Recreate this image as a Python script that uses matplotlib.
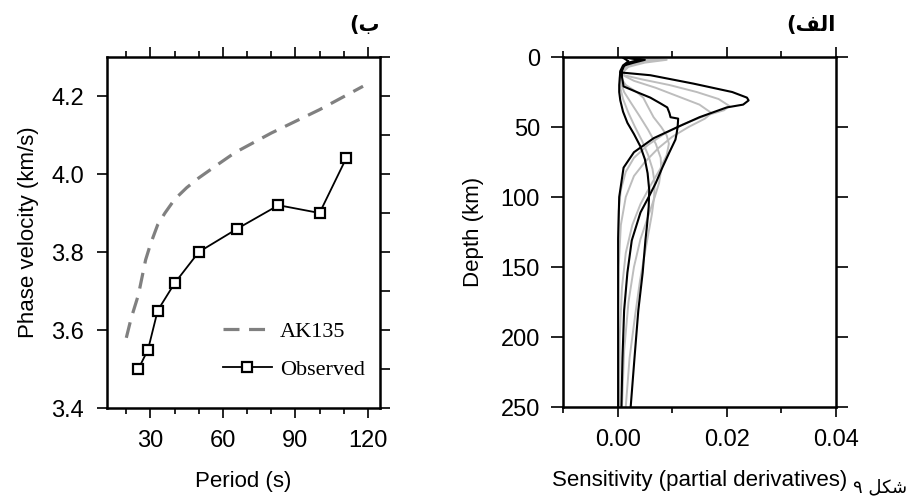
import matplotlib
matplotlib.use('Agg')
import matplotlib.pyplot as plt
from matplotlib.ticker import MultipleLocator, FormatStrFormatter

# ---- panel b: phase velocity dispersion ----
period_obs = [25, 29, 33, 40, 50, 66, 83, 100, 111]
vel_obs = [3.50, 3.55, 3.65, 3.72, 3.80, 3.86, 3.92, 3.90, 4.04]

period_ak = [20, 22, 25, 28, 30, 33, 36, 40, 45, 50, 58, 65, 80, 100, 118]
vel_ak = [3.58, 3.63, 3.69, 3.78, 3.82, 3.87, 3.90, 3.935, 3.965, 3.99, 4.025, 4.055, 4.105, 4.165, 4.225]

# ---- panel a: sensitivity kernels (depth km, value) ----
depth_a = [0, 2, 4, 6, 8, 11, 13, 19, 25, 29, 31, 34, 36, 43, 50, 58, 68, 79, 100, 130, 170, 210, 250]
sens_a = [0.0015, 0.0050, 0.0030, 0.0012, 0.0010, 0.0005, 0.0060, 0.0139, 0.0210, 0.0237, 0.0240, 0.0230,
          0.0200, 0.0150, 0.0110, 0.0066, 0.0030, 0.0011, 0.0003, 0.0001, 0.0001, 0.0001, 0.0001]

depth_b = [0, 2, 4, 7, 10, 13, 16, 20, 25, 30, 35, 38, 42, 48, 55, 63, 72, 82, 95, 110, 130, 160, 200, 250]
sens_b = [0.0030, 0.0080, 0.0040, 0.0015, 0.0010, 0.0012, 0.0045, 0.0095, 0.0145, 0.0185, 0.0205, 0.0195,
          0.0160, 0.0120, 0.0085, 0.0055, 0.0030, 0.0015, 0.0006, 0.0002, 0.0001, 0.0001, 0.0001, 0.0001]

depth_c = [0, 2, 4, 7, 10, 13, 17, 22, 28, 34, 40, 44, 50, 57, 65, 75, 85, 100, 120, 150, 200, 250]
sens_c = [0.0025, 0.0090, 0.0050, 0.0020, 0.0012, 0.0010, 0.0030, 0.0070, 0.0110, 0.0150, 0.0172, 0.0160,
          0.0130, 0.0100, 0.0075, 0.0050, 0.0030, 0.0015, 0.0006, 0.0002, 0.0001, 0.0001]

depth_d = [0, 2, 4, 7, 10, 14, 21, 25, 29, 33, 36, 40, 43, 44, 50, 55, 59, 68, 79, 90, 100, 111, 131, 154,
           181, 215, 250]
sens_d = [0.0010, 0.0040, 0.0020, 0.0010, 0.0008, 0.0008, 0.0011, 0.0035, 0.0060, 0.0078, 0.0091, 0.0095,
          0.0097, 0.0111, 0.0110, 0.0108, 0.0106, 0.0095, 0.0082, 0.0070, 0.0057, 0.0042, 0.0026, 0.0018,
          0.0012, 0.0009, 0.0007]

depth_e = [0, 2, 5, 8, 12, 16, 20, 25, 29, 35, 43, 50, 56, 62, 70, 80, 92, 105, 120, 140, 165, 200, 250]
sens_e = [0.0020, 0.0065, 0.0030, 0.0012, 0.0008, 0.0008, 0.0015, 0.0035, 0.0047, 0.0055, 0.0066, 0.0080,
          0.0090, 0.0094, 0.0090, 0.0078, 0.0060, 0.0042, 0.0027, 0.0015, 0.0008, 0.0004, 0.0003]

depth_f = [0, 2, 5, 8, 12, 18, 25, 33, 42, 52, 62, 72, 80, 90, 100, 115, 130, 150, 175, 210, 250]
sens_f = [0.0015, 0.0055, 0.0025, 0.0010, 0.0006, 0.0006, 0.0012, 0.0025, 0.0040, 0.0056, 0.0070, 0.0079,
          0.0080, 0.0076, 0.0068, 0.0055, 0.0042, 0.0030, 0.0020, 0.0012, 0.0008]

depth_g = [0, 3, 6, 10, 15, 22, 30, 40, 50, 60, 70, 80, 90, 100, 112, 125, 140, 160, 185, 215, 250]
sens_g = [0.0010, 0.0040, 0.0015, 0.0006, 0.0004, 0.0005, 0.0010, 0.0020, 0.0032, 0.0045, 0.0056, 0.0064,
          0.0068, 0.0067, 0.0063, 0.0057, 0.0050, 0.0041, 0.0032, 0.0022, 0.0015]

depth_h = [0, 3, 6, 10, 15, 20, 25, 31, 39, 47, 55, 64, 73, 83, 95, 107, 120, 131, 154, 181, 215, 250]
sens_h = [0.0008, 0.0020, 0.0010, 0.0005, 0.0004, 0.0003, 0.0003, 0.0005, 0.0010, 0.0018, 0.0030, 0.0042,
          0.0050, 0.0055, 0.0058, 0.0057, 0.0054, 0.0051, 0.0046, 0.0038, 0.0031, 0.0024]

gray_kernels = [(depth_b, sens_b), (depth_c, sens_c), (depth_e, sens_e), (depth_f, sens_f), (depth_g, sens_g)]
black_kernels = [(depth_a, sens_a), (depth_d, sens_d), (depth_h, sens_h)]

SANS = 'Liberation Sans'
SERIF = 'Liberation Serif'
ARABIC = ['DejaVu Sans']

plt.rcParams['font.family'] = SANS
plt.rcParams['font.size'] = 16


def style_frame(ax):
    for sp in ax.spines.values():
        sp.set_linewidth(1.8)
    ax.tick_params(which='both', direction='out', top=True, right=True, width=1.2,
                   labelsize=17)
    ax.tick_params(which='major', length=7.5, pad=8)
    ax.tick_params(which='minor', length=4)


fig = plt.figure(figsize=(9.12, 4.98), dpi=100)

# left panel (b)
ax1 = fig.add_axes([0.1173, 0.1807, 0.2993, 0.7048])
ax1.plot(period_ak, vel_ak, color='#808080', lw=2.3, dashes=(5, 3), label='AK135')
ax1.plot(period_obs, vel_obs, color='black', lw=1.3, marker='s', markersize=6.5,
         markerfacecolor='white', markeredgecolor='black', markeredgewidth=1.6, label='Observed')
ax1.set_xlim(12, 125)
ax1.set_ylim(3.4, 4.3)
ax1.set_xticks([30, 60, 90, 120])
ax1.xaxis.set_minor_locator(MultipleLocator(10))
ax1.set_yticks([3.4, 3.6, 3.8, 4.0, 4.2])
ax1.yaxis.set_minor_locator(MultipleLocator(0.1))
ax1.yaxis.set_major_formatter(FormatStrFormatter('%.1f'))
style_frame(ax1)
ax1.tick_params(axis='y', which='minor', left=False, right=True, length=7.5)
ax1.tick_params(axis='y', which='major', pad=9)
ax1.set_xlabel('Period (s)', labelpad=14)
ax1.set_ylabel('Phase velocity (km/s)', labelpad=9)
ax1.legend(loc='upper left', bbox_to_anchor=(0.425, 0.247), frameon=False, prop={'family': SERIF, 'size': 16},
           handlelength=2.2, handletextpad=0.35, labelspacing=0.78, borderpad=0, borderaxespad=0, numpoints=1)
fig.text(0.4167, 0.95, '(\uFE8F', ha='right', va='center', fontsize=15, fontweight='bold', family=ARABIC)

# right panel (a)
ax2 = fig.add_axes([0.6173, 0.1827, 0.2993, 0.7028])
for dep, val in gray_kernels:
    ax2.plot(val, dep, color='#bdbdbd', lw=1.4)
for dep, val in black_kernels:
    ax2.plot(val, dep, color='black', lw=1.5)
ax2.set_xlim(-0.01, 0.04)
ax2.set_ylim(250, 0)
ax2.set_xticks([0.0, 0.02, 0.04])
ax2.xaxis.set_minor_locator(MultipleLocator(0.01))
ax2.xaxis.set_major_formatter(FormatStrFormatter('%.2f'))
ax2.set_yticks([0, 50, 100, 150, 200, 250])
style_frame(ax2)
ax2.tick_params(axis='y', which='major', length=8.5, pad=8)
ax2.set_xlabel('Sensitivity (partial derivatives)', labelpad=14)
ax2.set_ylabel('Depth (km)', labelpad=12)
fig.text(0.9167, 0.95, '(\uFED2\uFEDF\uFE8D', ha='right', va='center', fontsize=15, fontweight='bold',
         family=ARABIC)

fig.text(0.995, 0.022, '\u06F9 \uFEDE\uFB91\uFEB7', ha='right', va='center', fontsize=13, family=ARABIC)

fig.savefig('out.png', dpi=100)
